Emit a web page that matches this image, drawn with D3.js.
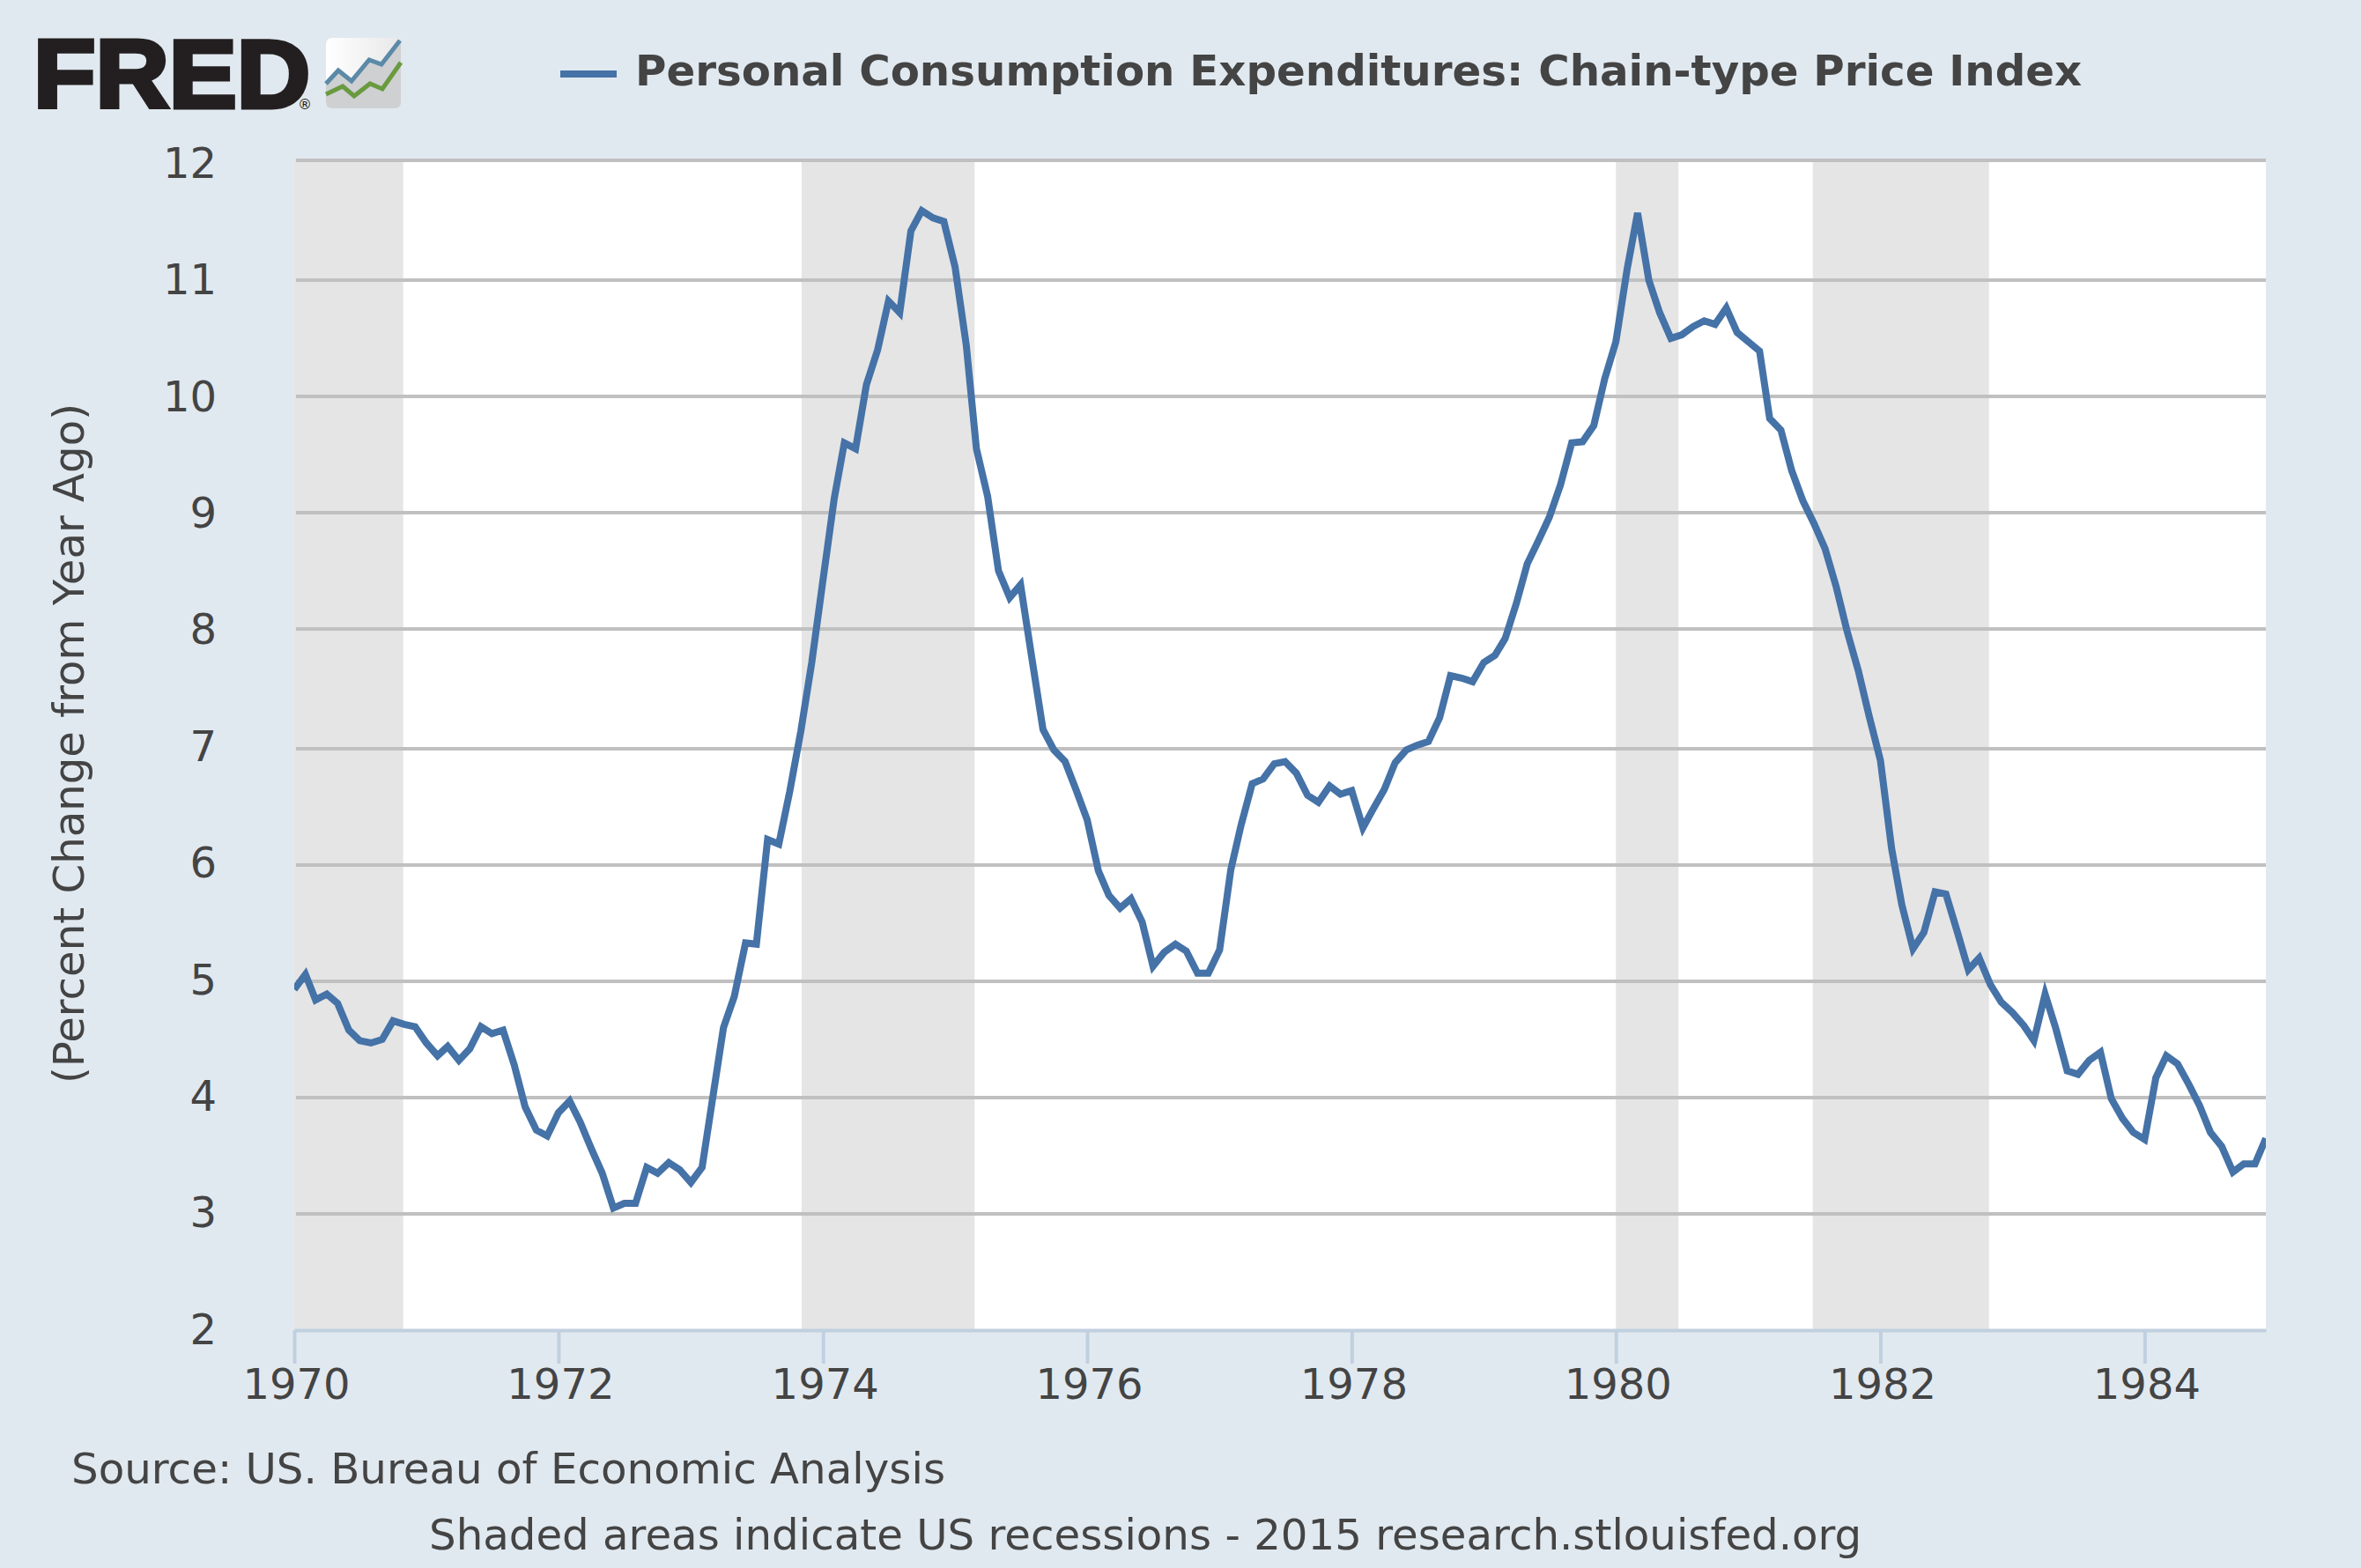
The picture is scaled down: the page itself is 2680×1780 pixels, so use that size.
<!DOCTYPE html>
<html>
<head>
<meta charset="utf-8">
<script src="https://cdn.jsdelivr.net/npm/d3@7/dist/d3.min.js"></script>
<style>
html,body{margin:0;padding:0;background:#e1e9f0;}
svg{display:block;}
text{font-family:"DejaVu Sans",sans-serif;fill:#444;}
</style>
</head>
<body>
<script>
const pce1970 = [4.93,5.06,4.84,4.89,4.81,4.58,4.49,4.47,4.50,4.66,4.63,4.61];
const pce1971 = [4.47,4.36,4.44,4.32,4.42,4.61,4.55,4.58,4.28,3.92,3.72,3.67];
const pce1972 = [3.87,3.97,3.79,3.56,3.35,3.05,3.09,3.09,3.40,3.35,3.44,3.38];
const pce1973 = [3.27,3.40,3.97,4.60,4.87,5.33,5.32,6.22,6.18,6.63,7.15,7.72];
const pce1974 = [8.42,9.12,9.60,9.55,10.10,10.40,10.82,10.72,11.41,11.58,11.52,11.49];
const pce1975 = [11.11,10.44,9.55,9.14,8.50,8.27,8.38,7.76,7.16,6.99,6.89,6.65];
const pce1976 = [6.39,5.95,5.74,5.63,5.71,5.51,5.13,5.25,5.32,5.26,5.07,5.07];
const pce1977 = [5.27,5.96,6.34,6.70,6.74,6.87,6.89,6.79,6.60,6.54,6.68,6.61];
const pce1978 = [6.64,6.32,6.48,6.65,6.88,6.99,7.03,7.06,7.26,7.61,7.59,7.56];
const pce1979 = [7.72,7.78,7.92,8.22,8.56,8.76,8.96,9.24,9.60,9.61,9.75,10.15];
const pce1980 = [10.47,11.09,11.56,11.00,10.72,10.50,10.53,10.60,10.65,10.62,10.76,10.55];
const pce1981 = [10.47,10.39,9.81,9.71,9.36,9.10,8.91,8.69,8.36,7.98,7.65,7.27];
const pce1982 = [6.90,6.14,5.66,5.28,5.42,5.77,5.75,5.43,5.10,5.20,4.97,4.82];
const pce1983 = [4.73,4.62,4.49,4.89,4.59,4.23,4.20,4.32,4.39,3.99,3.82,3.70];
const pce1984 = [3.64,4.17,4.36,4.29,4.12,3.93,3.70,3.58,3.36,3.43,3.43,3.65];

const recessionStarts = ["1970-01-01","1973-11-03","1980-01-01","1981-06-28"];
const recessionEnds   = ["1970-10-29","1975-02-24","1980-06-22","1982-10-28"];
const yTicks = [2,3,4,5,6,7,8,9,10,11,12];
const xTickYears = [1970,1972,1974,1976,1978,1980,1982,1984];
const seriesName = "Personal Consumption Expenditures: Chain-type Price Index";
const yAxisTitle = "(Percent Change from Year Ago)";
const sourceText = "Source: US. Bureau of Economic Analysis";
const noteText = "Shaded areas indicate US recessions - 2015 research.stlouisfed.org";

const values = [pce1970,pce1971,pce1972,pce1973,pce1974,pce1975,pce1976,pce1977,pce1978,pce1979,pce1980,pce1981,pce1982,pce1983,pce1984].flat();
const data = values.map((v,i)=>({date:new Date(Date.UTC(1970,i,1)),value:v}));

const W=2680,H=1780,L=334,R=2572,T=182,B=1510;
const svg=d3.select("body").append("svg").attr("width",W).attr("height",H);
svg.append("rect").attr("width",W).attr("height",H).attr("fill","#e1e9f0");

const x=d3.scaleUtc().domain([data[0].date,data[data.length-1].date]).range([L,R]);
// the reference's gridlines are slightly unevenly spaced, so the scale follows them
const y=d3.scaleLinear().domain([2,7,8,11,12]).range([B,850,714,318,T]);
// its tick labels, though, are evenly spaced
const yLabel=d3.scaleLinear().domain([2,12]).range([B,186]);

svg.append("defs").append("clipPath").attr("id","plot").append("rect")
  .attr("x",L).attr("y",T-2).attr("width",R-L).attr("height",B-T+2);

svg.append("rect").attr("x",L).attr("y",T).attr("width",R-L).attr("height",B-T).attr("fill","#fff");

svg.append("g").selectAll("rect").data(recessionStarts).join("rect")
  .attr("x",d=>x(new Date(d)))
  .attr("y",T)
  .attr("width",(d,i)=>x(new Date(recessionEnds[i]))-x(new Date(d)))
  .attr("height",B-T)
  .attr("fill","#e5e5e5");

svg.append("g").selectAll("line").data(yTicks.slice(1)).join("line")
  .attr("x1",L+2).attr("x2",R).attr("y1",d=>y(d)).attr("y2",d=>y(d))
  .attr("stroke","#c0c0c0").attr("stroke-width",4);

const line=d3.line().x(d=>x(d.date)).y(d=>y(d.value));
svg.append("path").datum(data).attr("d",line).attr("fill","none")
  .attr("stroke","#4572a7").attr("stroke-width",8).attr("stroke-linejoin","miter")
  .attr("stroke-miterlimit",4).attr("clip-path","url(#plot)");

const xAxis=d3.axisBottom(x)
  .tickValues(xTickYears.map(Y=>new Date(Date.UTC(Y,0,1))))
  .tickFormat(d3.utcFormat("%Y")).tickSize(38).tickPadding(6).tickSizeOuter(0);
const gx=svg.append("g").attr("transform",`translate(0,${B})`).call(xAxis);
gx.select(".domain").attr("stroke","#c0d0e0").attr("stroke-width",4);
gx.selectAll(".tick line").attr("stroke","#c0d0e0").attr("stroke-width",4);
gx.selectAll(".tick text").attr("font-size",48).attr("dx",2).attr("font-family","DejaVu Sans").attr("fill","#444");

const yAxis=d3.axisLeft(yLabel).tickValues(yTicks).tickSize(0).tickPadding(88).tickFormat(d3.format("d"));
const gy=svg.append("g").attr("transform",`translate(${L},0)`).call(yAxis);
gy.select(".domain").remove();
gy.selectAll(".tick text").attr("font-size",48).attr("font-family","DejaVu Sans").attr("fill","#444");

svg.append("text").attr("transform","translate(95,844) rotate(-90)").attr("text-anchor","middle")
  .attr("font-size",48.2).text(yAxisTitle);

svg.append("line").attr("x1",636).attr("x2",700).attr("y1",84).attr("y2",84)
  .attr("stroke","#4572a7").attr("stroke-width",8);
svg.append("text").attr("x",721).attr("y",97).attr("font-size",48.3).attr("font-weight","bold").text(seriesName);

svg.append("text").attr("x",81).attr("y",1684).attr("font-size",48.3).text(sourceText);
svg.append("text").attr("x",487).attr("y",1759).attr("font-size",48.25).text(noteText);

// FRED logo
svg.append("text").attr("x",38).attr("y",122).attr("font-size",110).attr("font-weight","bold")
  .style("font-family","'Liberation Sans',sans-serif").style("fill","#231f20")
  .attr("stroke","#231f20").attr("stroke-width",5).attr("textLength",314).attr("lengthAdjust","spacingAndGlyphs").text("FRED");
svg.append("text").attr("x",338).attr("y",124).attr("font-size",16).attr("text-anchor","start").style("fill","#231f20").text("®");
const defs=svg.select("defs");
const g=defs.append("linearGradient").attr("id","icon").attr("x1",0).attr("x2",1).attr("y1",0).attr("y2",0);
g.append("stop").attr("offset",0).attr("stop-color","#ffffff");
g.append("stop").attr("offset",1).attr("stop-color","#e8e8e8");
const logo=svg.append("g").attr("transform","translate(370,43)");
logo.append("rect").attr("width",85).attr("height",80).attr("rx",7).attr("fill","url(#icon)");
logo.append("path").attr("d","M0,52L14,37L29,49L49,25L63,30L85,3L85,73Q85,80 78,80L7,80Q0,80 0,73Z").attr("fill","#cfd0d2");
logo.append("path").attr("d","M0,52L14,37L29,49L49,25L63,30L84,3").attr("fill","none").attr("stroke","#5b8aa8").attr("stroke-width",5);
logo.append("path").attr("d","M0,64L19,55L32,66L50,52L64,58L85,28").attr("fill","none").attr("stroke","#6a9a3f").attr("stroke-width",5);
</script>
</body>
</html>
